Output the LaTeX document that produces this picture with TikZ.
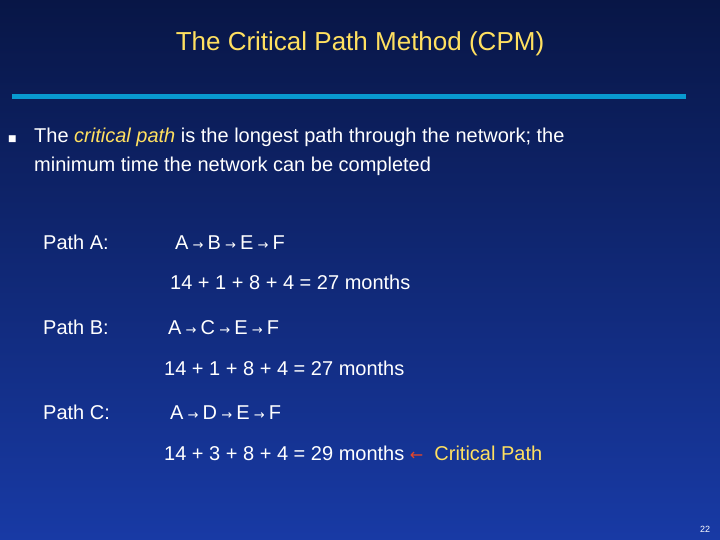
\documentclass[tikz,border=0pt]{standalone}
\usepackage{fontspec}
\setmainfont{Liberation Sans}
\newfontfamily\symf{DejaVu Sans}
\definecolor{bgtop}{RGB}{8,22,70}
\definecolor{bgbot}{RGB}{24,58,165}
\definecolor{barc}{RGB}{8,154,208}
\definecolor{ylw}{RGB}{255,224,96}
\definecolor{redar}{RGB}{230,70,40}
\begin{document}
\begin{tikzpicture}[x=1pt,y=1pt,
  txt/.style={anchor=base west,inner sep=0pt,text=white,font=\fontsize{20}{24}\selectfont}]
\useasboundingbox (0,0) rectangle (720,540);
\shade[top color=bgtop, bottom color=bgbot] (0,0) rectangle (720,540);
\fill[barc] (12,441) rectangle (686,446);
\def\ra{{\symf\fontsize{13}{16}\selectfont\ →\ }}
\node[txt,anchor=base,text=ylw,font=\fontsize{26}{30}\selectfont] (title) at (360,489) {The Critical Path Method (CPM)};
\node[txt] (bul) at (8,398) {\symf\fontsize{9}{10}\selectfont■};
\node[txt] (l1) at (34,397) {The \textcolor{ylw}{\itshape critical path} is the longest path through the network; the};
\node[txt] (l2) at (34,368) {minimum time the network can be completed};
\node[txt] (pa) at (43,290) {Path A:};
\node[txt] (pa1) at (175,290) {A\ra B\ra E\ra F};
\node[txt] (pa2) at (170,250) {14 + 1 + 8 + 4 = 27 months};
\node[txt] (pb) at (43,205) {Path B:};
\node[txt] (pb1) at (168,205) {A\ra C\ra E\ra F};
\node[txt] (pb2) at (164,164) {14 + 1 + 8 + 4 = 27 months};
\node[txt] (pc) at (43,120) {Path C:};
\node[txt] (pc1) at (170,120) {A\ra D\ra E\ra F};
\node[txt] (pc2) at (164,79) {14 + 3 + 8 + 4 = 29 months \textcolor{redar}{\symf\fontsize{16}{18}\selectfont ←}\ \ \textcolor{ylw}{Critical Path}};
\node[txt,font=\fontsize{9}{10}\selectfont] (num) at (700,7) {22};
\end{tikzpicture}
\end{document}
